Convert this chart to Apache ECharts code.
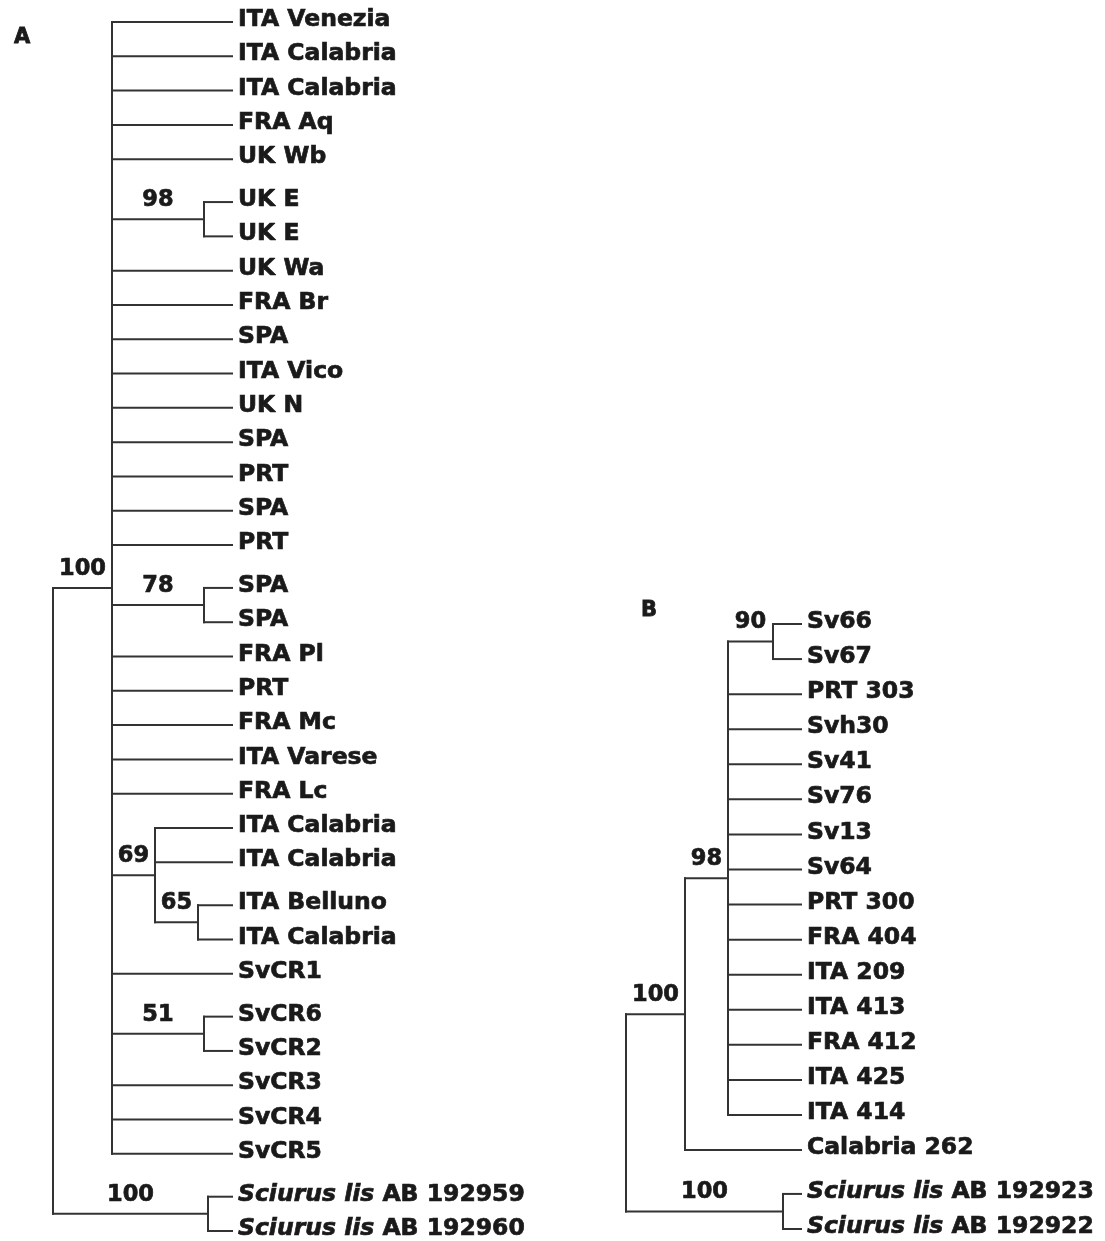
<!DOCTYPE html>
<html>
<head>
<meta charset="utf-8">
<script src="https://cdn.jsdelivr.net/npm/echarts@6/dist/echarts.min.js"></script>
<style>
html,body{margin:0;padding:0;background:#fff;}
#chart{width:1105px;height:1241px;}
</style>
</head>
<body>
<div id="chart"></div>
<script>
// ---- DATA (Newick trees: leaf names, bootstrap support after ")", branch lengths after ":") ----
const treeA = "((ITA Venezia:120,ITA Calabria:120,ITA Calabria:120,FRA Aq:120,UK Wb:120,(UK E:28,UK E:28)98:92,UK Wa:120,FRA Br:120,SPA:120,ITA Vico:120,UK N:120,SPA:120,PRT:120,SPA:120,PRT:120,(SPA:28,SPA:28)78:92,FRA Pl:120,PRT:120,FRA Mc:120,ITA Varese:120,FRA Lc:120,(ITA Calabria:77,ITA Calabria:77,(ITA Belluno:34,ITA Calabria:34)65:43)69:43,SvCR1:120,(SvCR6:28,SvCR2:28)51:92,SvCR3:120,SvCR4:120,SvCR5:120)100:59,(_Sciurus lis_ AB 192959:24,_Sciurus lis_ AB 192960:24)100:155);";
const treeB = "((((Sv66:28,Sv67:28)90:45,PRT 303:73,Svh30:73,Sv41:73,Sv76:73,Sv13:73,Sv64:73,PRT 300:73,FRA 404:73,ITA 209:73,ITA 413:73,FRA 412:73,ITA 425:73,ITA 414:73)98:43,Calabria 262:116)100:59,(_Sciurus lis_ AB 192923:18,_Sciurus lis_ AB 192922:18)100:157);";
const panelLabels = ["A", "B"];
const cherryGap = 0.25; // extra row spacing before a two-leaf clade

// ---- Newick parser ----
function parseNewick(s) {
  let i = 0;
  function node() {
    const n = {children: [], name: '', support: '', len: 0};
    if (s[i] === '(') {
      i++;
      n.children.push(node());
      while (s[i] === ',') { i++; n.children.push(node()); }
      i++;
    }
    let tok = '';
    while (i < s.length && !',():;'.includes(s[i])) tok += s[i++];
    if (n.children.length) n.support = tok.trim(); else n.name = tok.trim();
    if (s[i] === ':') {
      i++; let num = '';
      while (i < s.length && !',();'.includes(s[i])) num += s[i++];
      n.len = parseFloat(num);
    }
    return n;
  }
  return node();
}

function layoutTree(root) {
  let pos = null;
  const segs = [], leaves = [], supports = [];
  function walk(n, parent) {
    n.depth = parent ? parent.depth + n.len : 0;
    if (!n.children.length) {
      const isCherryStart = parent && parent.children.length === 2 &&
        parent.children.every(c => !c.children.length) && parent.children[0] === n;
      if (pos === null) pos = 0;
      else pos += 1 + (isCherryStart ? cherryGap : 0);
      n.y = pos;
    } else {
      n.children.forEach(c => walk(c, n));
      n.y = (n.children[0].y + n.children[n.children.length - 1].y) / 2;
      segs.push([n.depth, n.children[0].y, n.depth, n.children[n.children.length - 1].y]);
    }
    if (parent) {
      segs.push([parent.depth, n.y, n.depth, n.y]);
      if (n.children.length && n.support) supports.push([(parent.depth + n.depth) / 2, n.y, n.support]);
    }
    if (!n.children.length) leaves.push([n.depth, n.y, n.name]);
  }
  walk(root, null);
  const maxDepth = Math.max(...leaves.map(l => l[0]));
  return {segs, leaves, supports, maxY: pos, maxDepth};
}

const A = layoutTree(parseNewick(treeA));
const B = layoutTree(parseNewick(treeB));

const FONT = '"DejaVu Sans", sans-serif';
const LINE = '#333333';
const TXT = '#1a1a1a';

function segSeries(L, idx) {
  return {
    type: 'custom', xAxisIndex: idx, yAxisIndex: idx, clip: false, silent: true,
    data: L.segs,
    encode: {x: [0, 2], y: [1, 3]},
    renderItem: function (params, api) {
      const p1 = api.coord([api.value(0), api.value(1)]);
      const p2 = api.coord([api.value(2), api.value(3)]);
      return {type: 'line', shape: {x1: p1[0], y1: p1[1], x2: p2[0], y2: p2[1]},
        style: {stroke: LINE, lineWidth: 2, lineCap: 'square'}};
    }
  };
}
function leafSeries(L, idx) {
  return {
    type: 'custom', xAxisIndex: idx, yAxisIndex: idx, clip: false, silent: true,
    data: L.leaves,
    encode: {x: 0, y: 1},
    renderItem: function (params, api) {
      const d = L.leaves[params.dataIndex];
      const p = api.coord([d[0], d[1]]);
      const txt = d[2].replace(/_(.+?)_/, '{i|$1}');
      return {type: 'text', x: p[0] + 6, y: p[1] - 2,
        style: {text: txt, fill: TXT, fontSize: 23.5, fontWeight: 'bold', fontFamily: FONT,
          align: 'left', verticalAlign: 'middle', stroke: TXT, lineWidth: 0.7,
          rich: {i: {fontStyle: 'italic', fontWeight: 'bold', fontSize: 23.5, fontFamily: FONT, fill: TXT,
            stroke: TXT, lineWidth: 0.7}}}};
    }
  };
}
function supSeries(L, idx) {
  return {
    type: 'custom', xAxisIndex: idx, yAxisIndex: idx, clip: false, silent: true,
    data: L.supports,
    encode: {x: 0, y: 1},
    renderItem: function (params, api) {
      const d = L.supports[params.dataIndex];
      const p = api.coord([d[0], d[1]]);
      return {type: 'text', x: p[0], y: p[1] - 19,
        style: {text: d[2], fill: TXT, fontSize: 22.5, fontWeight: 'bold', fontFamily: FONT,
          align: 'center', verticalAlign: 'middle', stroke: TXT, lineWidth: 0.7}};
    }
  };
}

const chart = echarts.init(document.getElementById('chart'));
chart.setOption({
  animation: false,
  backgroundColor: '#fff',
  title: [
    {text: panelLabels[0], left: 9, top: 22, textStyle: {fontFamily: FONT, fontWeight: 'bold', fontSize: 21, color: TXT, textBorderColor: TXT, textBorderWidth: 0.8}},
    {text: panelLabels[1], left: 636, top: 595, textStyle: {fontFamily: FONT, fontWeight: 'bold', fontSize: 21, color: TXT, textBorderColor: TXT, textBorderWidth: 0.8}}
  ],
  grid: [
    {left: 53, top: 22, width: 179, height: 1209},
    {left: 626, top: 624, width: 175, height: 605}
  ],
  xAxis: [
    {type: 'value', gridIndex: 0, min: 0, max: A.maxDepth, show: false},
    {type: 'value', gridIndex: 1, min: 0, max: B.maxDepth, show: false}
  ],
  yAxis: [
    {type: 'value', gridIndex: 0, min: 0, max: A.maxY, inverse: true, show: false},
    {type: 'value', gridIndex: 1, min: 0, max: B.maxY, inverse: true, show: false}
  ],
  series: [segSeries(A, 0), leafSeries(A, 0), supSeries(A, 0),
           segSeries(B, 1), leafSeries(B, 1), supSeries(B, 1)]
});
</script>
</body>
</html>
